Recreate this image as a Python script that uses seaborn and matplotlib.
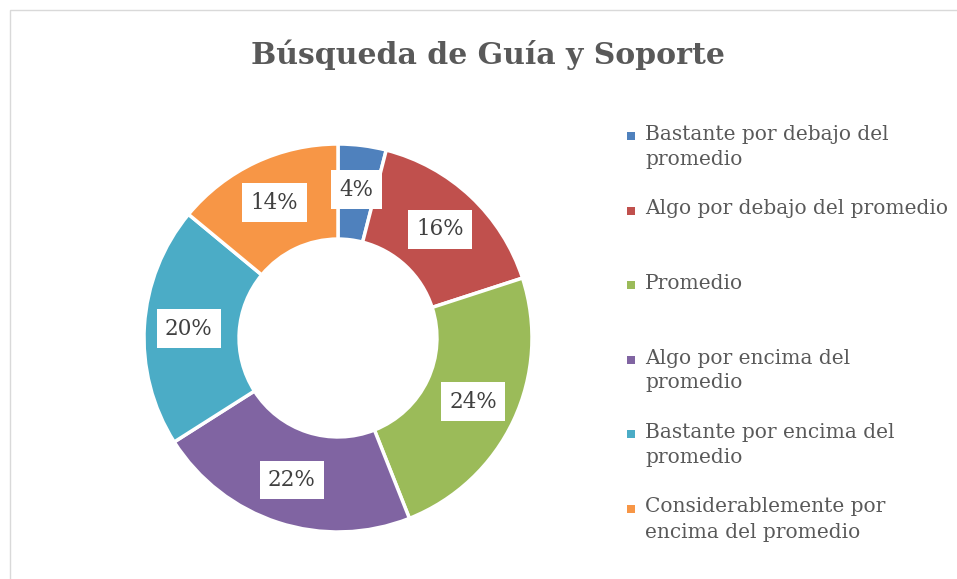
import matplotlib
matplotlib.use("Agg")
import matplotlib.pyplot as plt
from matplotlib.patches import Rectangle
import seaborn as sns

categories = [
    "Bastante por debajo del\npromedio",
    "Algo por debajo del promedio",
    "Promedio",
    "Algo por encima del\npromedio",
    "Bastante por encima del\npromedio",
    "Considerablemente por\nencima del promedio",
]
values = [4, 16, 24, 22, 20, 14]
colors = ["#4F81BD", "#C0504D", "#9BBB59", "#8064A2", "#4BACC6", "#F79646"]
title = "Búsqueda de Guía y Soporte"

sns.set_theme(style="white")
plt.rcParams['font.family'] = ['DejaVu Serif']

W, H = 957, 579
fig = plt.figure(figsize=(W / 100, H / 100), dpi=100)

# chart frame
fig.patches.append(Rectangle((10 / W, -0.05), 1.0, 1 - 10 / H + 0.05,
                             transform=fig.transFigure, fill=False,
                             edgecolor="#D9D9D9", lw=1))

# donut
cx, cy, r = 338, 338, 194
ax = fig.add_axes([(cx - r) / W, (H - cy - r) / H, 2 * r / W, 2 * r / H])
wedges, _, autotexts = ax.pie(
    values, colors=colors, startangle=90, counterclock=False,
    autopct=lambda p: f"{p:.0f}%", pctdistance=0.77,
    wedgeprops=dict(width=0.49, edgecolor="white", linewidth=2.5),
    textprops=dict(fontsize=15.5, color="#404040"),
)
for t in autotexts:
    t.set_bbox(dict(facecolor="white", edgecolor="none", pad=6))
ax.set_xlim(-1, 1)
ax.set_ylim(-1, 1)
ax.axis("off")

fig.text(488 / W, 1 - 55 / H, title, ha="center", va="center",
         fontsize=21.5, fontweight="bold", color="#595959")

# legend
top = 125
step = 74.5
for i, (lab, col) in enumerate(zip(categories, colors)):
    y = top + i * step
    fig.patches.append(Rectangle((627 / W, 1 - (y + 15) / H), 8 / W, 8 / H,
                                 transform=fig.transFigure, facecolor=col,
                                 edgecolor="none"))
    fig.text(645 / W, 1 - y / H, lab, ha="left", va="top", fontsize=14.5,
             color="#595959", linespacing=1.4)

fig.savefig("out.png", dpi=100)
